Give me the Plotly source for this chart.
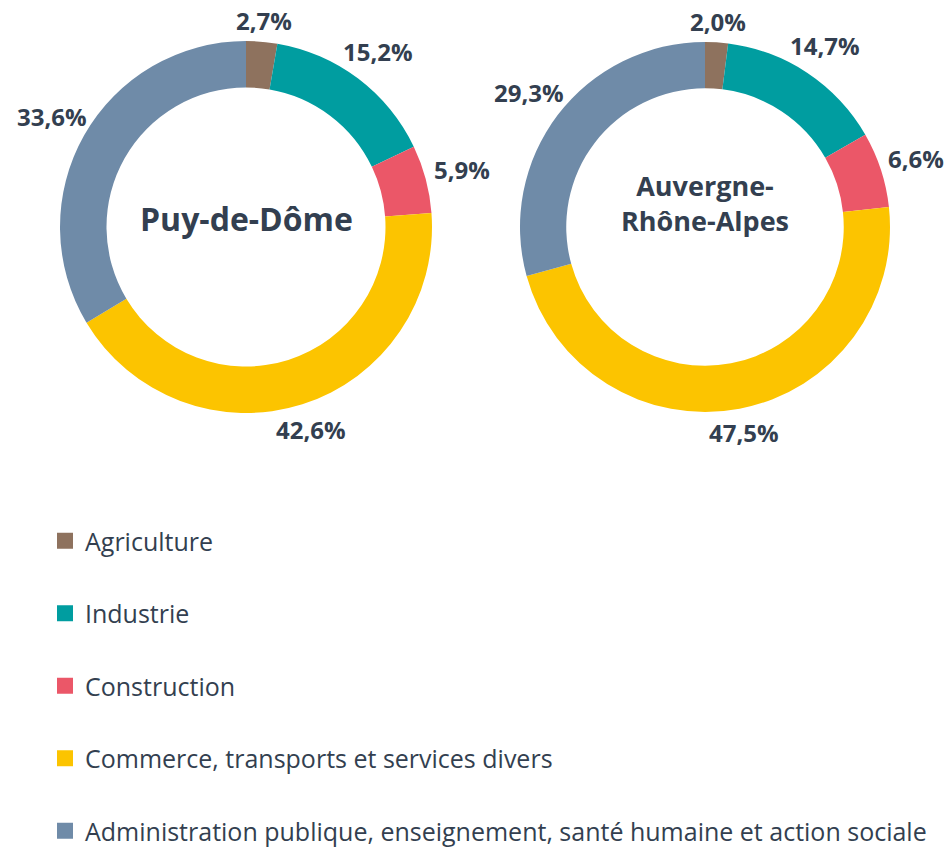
import numpy as np
import plotly.graph_objects as go

categories = ["Agriculture", "Industrie", "Construction",
              "Commerce, transports et services divers",
              "Administration publique, enseignement, santé humaine et action sociale"]
colors = ["#8E725E", "#009DA0", "#EB5768", "#FCC400", "#6F8BA8"]
puy_values = [2.7, 15.2, 5.9, 42.6, 33.6]
ara_values = [2.0, 14.7, 6.6, 47.5, 29.3]
titles = ["Puy-de-Dôme", "Auvergne-<br>Rhône-Alpes"]

W, H = 946, 849
FONT = "Open Sans, sans-serif"
DARK = "#333F50"

fig = go.Figure()

pies = [
    dict(vals=puy_values, cx=246, cy=227, r=186, title=titles[0], tsize=32, ty=218),
    dict(vals=ara_values, cx=705, cy=227, r=185, title=titles[1], tsize=27, ty=203),
]

for p in pies:
    cx, cy, r = p["cx"], p["cy"], p["r"]
    dom = dict(x=[(cx - r) / W, (cx + r) / W], y=[1 - (cy + r) / H, 1 - (cy - r) / H])
    fig.add_trace(go.Pie(
        labels=categories, values=p["vals"], sort=False, direction="clockwise", rotation=0,
        hole=0.75, marker=dict(colors=colors, line=dict(width=0)),
        textinfo="none", showlegend=False, domain=dom,
        hoverinfo="label+value", automargin=False,
    ))
    # value labels outside the ring, along each slice's mid angle
    vals = np.array(p["vals"], dtype=float)
    frac = vals / vals.sum()
    mids = (np.cumsum(frac) - frac / 2) * 2 * np.pi
    for v, a in zip(vals, mids):
        dist = r + 7 + abs(np.sin(a)) * 28 + abs(np.cos(a)) * 12
        x = cx + dist * np.sin(a)
        y = cy - dist * np.cos(a)
        fig.add_annotation(
            x=x / W, y=1 - y / H, xref="paper", yref="paper",
            text=f"{v:.1f}%".replace(".", ","), showarrow=False,
            xanchor="center", yanchor="middle",
            font=dict(family=FONT, size=24, color=DARK, weight="bold"),
        )
    fig.add_annotation(x=cx / W, y=1 - p["ty"] / H, xref="paper", yref="paper",
                       text=p["title"], showarrow=False, xanchor="center", yanchor="middle",
                       font=dict(family=FONT, size=p["tsize"], color=DARK, weight="bold"))

# legend entries via dummy traces so entries can be spaced
for cat, col in zip(categories, colors):
    fig.add_trace(go.Scatter(
        x=[None], y=[None], mode="markers", name=cat, legendgroup=cat,
        marker=dict(symbol="square", size=16, color=col),
    ))

fig.update_layout(
    width=W, height=H, margin=dict(l=0, r=0, t=0, b=0, autoexpand=False),
    paper_bgcolor="white", plot_bgcolor="white",
    separators=", ",
    xaxis=dict(visible=False), yaxis=dict(visible=False),
    legend=dict(x=45 / W, y=1 - 518 / H, xanchor="left", yanchor="top",
                font=dict(family=FONT, size=25, color=DARK),
                tracegroupgap=37, itemclick=False),
)

fig.write_html("out.html", config={"displayModeBar": False},
               post_script="document.body.style.margin='0';")
